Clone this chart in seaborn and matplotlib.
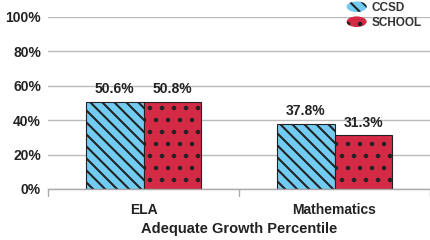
import matplotlib
matplotlib.use("Agg")
import matplotlib.pyplot as plt
import seaborn as sns
import pandas as pd
from matplotlib.patches import Ellipse
from matplotlib.legend_handler import HandlerPatch
import matplotlib.patches as mpatches

categories = ["ELA", "Mathematics"]
series = ["CCSD", "SCHOOL"]
ccsd = [50.6, 37.8]
school = [50.8, 31.3]
yticks = [0, 20, 40, 60, 80, 100]

colors = {"CCSD": "#72CBF2", "SCHOOL": "#D42A45"}
hatches = {"CCSD": "\\\\", "SCHOOL": "."}

DPI = 72
S = 100 / DPI  # scale so sizes match a 100-dpi layout

df = pd.DataFrame({
    "cat": categories * 2,
    "series": ["CCSD"] * 2 + ["SCHOOL"] * 2,
    "val": ccsd + school,
})

sns.set_style("white")
plt.rcParams["font.family"] = ["Liberation Sans", "DejaVu Sans"]
plt.rcParams["hatch.linewidth"] = 1.5 * S

fig = plt.figure(figsize=(430 / DPI, 240 / DPI), dpi=DPI)
ax = fig.add_axes([48/430, 1-189/240, 1-48/430, 172/240])

sns.barplot(data=df, x="cat", y="val", hue="series", hue_order=series,
            palette=colors, width=0.6, ax=ax, legend=False, saturation=1)

for cont, s in zip(ax.containers, series):
    for bar in cont:
        bar.set_hatch(hatches[s])
        bar.set_edgecolor("#222222")
        bar.set_linewidth(0.8 * S)
    labels = [f"{v:.1f}%" for v in cont.datavalues]
    ax.bar_label(cont, labels=labels, padding=4 * S, fontsize=10 * S, fontweight="bold", color="#222222")

ax.set_ylim(0, 100)
ax.set_xlim(-0.5, 1.5)
ax.set_yticks(yticks)
ax.set_yticklabels([f"{t}%" for t in yticks], fontsize=10 * S, fontweight="bold", color="#222222")
ax.yaxis.grid(True, color="#BBBBBB", linewidth=1 * S)
ax.set_axisbelow(True)
for sp in ["top", "right", "left"]:
    ax.spines[sp].set_visible(False)
ax.spines["bottom"].set_color("#AAAAAA")
ax.spines["bottom"].set_linewidth(1 * S)
ax.tick_params(axis="y", length=0, pad=5 * S)
ax.tick_params(axis="x", length=0, pad=10 * S, labelsize=10 * S)
for lab in ax.get_xticklabels():
    lab.set_fontweight("bold")
    lab.set_color("#222222")
ax.set_ylabel("")
ax.set_xlabel("Adequate Growth Percentile", fontsize=10.5 * S, fontweight="bold", color="#222222", labelpad=4 * S)
# category separators
for xpos in [-0.5, 0.5, 1.5]:
    ax.plot([xpos, xpos], [0, -4], color="#AAAAAA", lw=1 * S, clip_on=False)


class HandlerEllipse(HandlerPatch):
    def create_artists(self, legend, orig_handle, xdescent, ydescent, width, height, fontsize, trans):
        center = 0.5 * width - 0.5 * xdescent, 0.5 * height - 0.5 * ydescent
        p = Ellipse(xy=center, width=width + xdescent, height=height + ydescent)
        self.update_prop(p, orig_handle, legend)
        p.set_transform(trans)
        return [p]

handles = [mpatches.Patch(facecolor=colors[s], hatch=hatches[s], edgecolor="#222222", linewidth=0) for s in series]
leg = fig.legend(handles, series, loc="upper right", bbox_to_anchor=(1.005, 1.035), frameon=False,
                 handler_map={mpatches.Patch: HandlerEllipse()}, handlelength=1.7, handleheight=0.9,
                 labelspacing=0.25, handletextpad=0.4, prop={"size": 8.5 * S, "weight": "bold"})
for t in leg.get_texts():
    t.set_color("#333333")

fig.savefig("out.png", dpi=DPI)
